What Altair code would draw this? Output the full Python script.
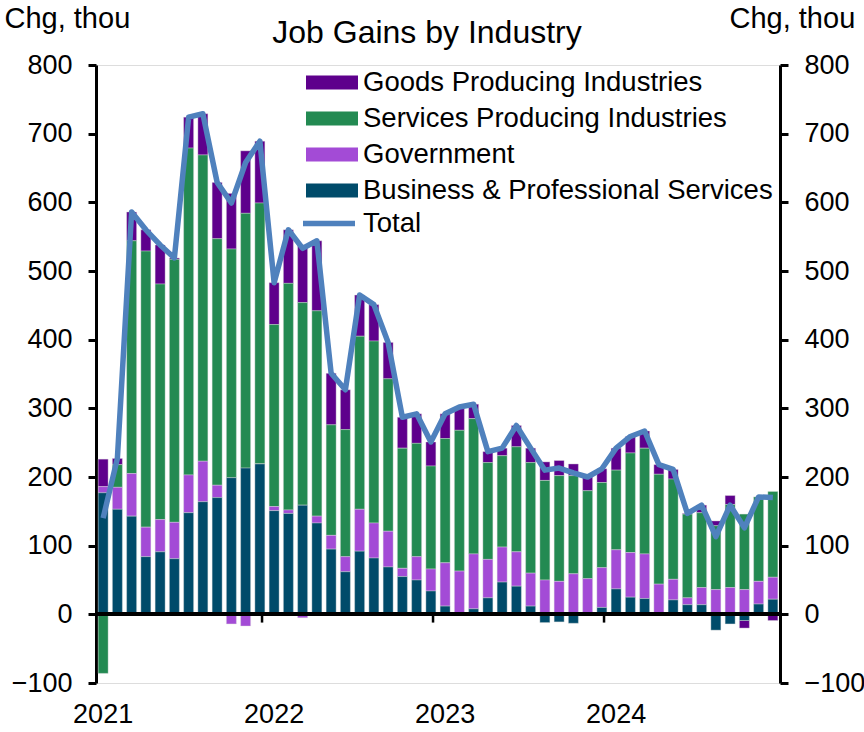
import altair as alt
import pandas as pd

# ---- data (thousands, monthly change) ----
years = ["2021", "2022", "2023", "2024"]
months = [f"{y}-{m:02d}" for y in years for m in range(1, 13)]

business = [177, 153, 143, 84, 91, 81, 148, 164, 170, 199, 213, 219,
            151, 147, 159, 133, 95, 62, 92, 82, 69, 55, 50, 34,
            12, 0, 8, 24, 47, 41, 12, -12, -11, -13, 2, 10,
            37, 25, 23, 0, 21, 14, 14, -23, -14, -9, 15, 22]
government = [9, 32, 62, 43, 47, 53, 55, 59, 18, -14, -17, 0,
              6, 5, -5, 10, 20, 22, 61, 51, 52, 12, 34, 32,
              63, 63, 80, 56, 51, 50, 48, 50, 48, 59, 50, 58,
              57, 65, 65, 44, 30, 10, 25, 36, 39, 36, 33, 32]
services = [-86, 33, 339, 402, 343, 383, 476, 446, 359, 333, 371, 380,
            265, 330, 295, 299, 161, 185, 252, 265, 222, 175, 165, 150,
            181, 205, 197, 141, 133, 153, 161, 145, 154, 143, 128, 124,
            116, 145, 154, 160, 146, 122, 109, 93, 121, 110, 123, 125]
goods = [40, 9, 42, 31, 57, 2, 45, 60, 82, 81, 91, 90,
         61, 78, 84, 102, 75, 58, 60, 53, 53, 45, 43, 35,
         36, 34, 21, 16, 11, 31, 21, 27, 22, 17, 20, 20,
         32, 24, 25, 14, 14, 1, 11, 7, 13, -11, 0, -9]
total = [140, 227, 586, 560, 538, 519, 724, 729, 629, 599, 658, 689,
         483, 560, 533, 544, 351, 327, 465, 451, 396, 287, 292, 251,
         292, 302, 306, 237, 242, 275, 242, 210, 213, 206, 200, 212,
         242, 259, 267, 218, 211, 147, 159, 113, 159, 126, 171, 170]

series_names = ["Goods Producing Industries", "Services Producing Industries",
                "Government", "Business & Professional Services"]
series_colors = ["#5E008C", "#238A52", "#A34BD6", "#004B6A"]
stack_rank = {"Business & Professional Services": 0, "Government": 1,
              "Services Producing Industries": 2, "Goods Producing Industries": 3}

rows = []
for name, vals in zip(series_names, [goods, services, government, business]):
    for m, v in zip(months, vals):
        rows.append({"month": m, "series": name, "value": v, "rank": stack_rank[name]})
bars_df = pd.DataFrame(rows)
line_df = pd.DataFrame({"month": months, "total": total, "name": "Total"})
tick_df = pd.DataFrame({"month": [f"{y}-01" for y in years[1:]]})

F = "Liberation Sans, Arial, sans-serif"
RECT = "M-1,-0.27L1,-0.27L1,0.27L-1,0.27Z"

x_enc = alt.X(
    "month:O",
    sort=months,
    scale=alt.Scale(paddingInner=0.3, paddingOuter=0.15),
    axis=alt.Axis(
        title=None, ticks=False, domain=False, labelAngle=0, labelOverlap=False,
        labelExpr="substring(datum.value,5,7)=='01' ? substring(datum.value,0,4) : ''",
        labelFont=F, labelFontSize=27, labelColor="black", labelPadding=18,
    ),
)

yscale = alt.Scale(domain=[-100, 800], nice=False)

def yaxis(orient, title_x):
    return alt.Axis(
        orient=orient, values=list(range(-100, 900, 100)), grid=False,
        domainColor="black", domainWidth=3, tickColor="black", tickWidth=3, tickSize=8,
        labelFont=F, labelFontSize=27, labelColor="black", labelPadding=16,
        title="Chg, thou", titleAngle=0, titleAlign="left", titleBaseline="alphabetic",
        titleX=title_x, titleY=-38, titleFont=F, titleFontSize=29,
        titleFontWeight="normal", titleColor="black",
    )

bars = alt.Chart(bars_df).mark_bar(stroke="#dcdcdc", strokeWidth=0.4).encode(
    x=x_enc,
    y=alt.Y("value:Q", stack="zero", scale=yscale, axis=yaxis("left", -92)),
    fill=alt.Fill(
        "series:N",
        scale=alt.Scale(domain=series_names, range=series_colors),
        legend=alt.Legend(
            title=None, orient="none", legendX=210, legendY=4, padding=0,
            symbolType=RECT, symbolSize=2704, symbolStrokeWidth=0, symbolOpacity=1,
            labelFont=F, labelFontSize=27.5, labelColor="black", labelOffset=5,
            clipHeight=27, rowPadding=8, labelLimit=600,
        ),
    ),
    order=alt.Order("rank:Q", sort="ascending"),
)

line = alt.Chart(line_df).mark_line(strokeWidth=5.5, strokeJoin="round").encode(
    x=alt.X("month:O", sort=months),
    y=alt.Y("total:Q", scale=yscale, axis=yaxis("right", -51)),
    stroke=alt.Stroke(
        "name:N",
        scale=alt.Scale(domain=["Total"], range=["#4F81BD"]),
        legend=alt.Legend(
            title=None, orient="none", legendX=204, legendY=145, padding=0,
            symbolType="stroke", symbolSize=2704, symbolStrokeWidth=5.5,
            labelFont=F, labelFontSize=27.5, labelColor="black", labelOffset=5,
            clipHeight=27, labelLimit=600,
        ),
    ),
)

zero = alt.Chart(line_df).mark_rule(color="black", strokeWidth=3).encode(
    y=alt.YDatum(0, axis=None)
)

ticks = alt.Chart(tick_df).mark_rule(color="black", strokeWidth=2.5).encode(
    x=alt.X("month:O", sort=months),
    y=alt.YDatum(0, axis=None),
    y2=alt.Y2Datum(-12),
    xOffset=alt.value(-7.1),
)

chart = alt.layer(bars, zero, ticks, line).resolve_axis(y="independent").properties(
    width=684,
    height=618,
    autosize=alt.AutoSizeParams(type="none"),
    padding={"left": 96, "top": 65, "right": 84, "bottom": 49},
    title=alt.TitleParams(
        "Job Gains by Industry", font=F, fontSize=32, fontWeight="normal",
        color="black", anchor="middle", dx=-11, dy=50, offset=4,
    ),
).configure_view(stroke=None).configure(background="white")

chart.save("out.html", embed_options={"renderer": "svg", "actions": False})
